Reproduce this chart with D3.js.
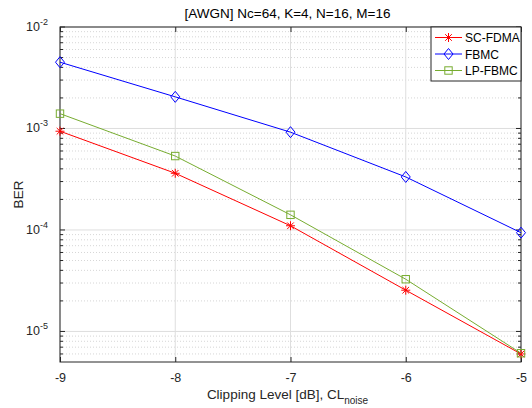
<!DOCTYPE html>
<html>
<head>
<meta charset="utf-8">
<script src="https://cdn.jsdelivr.net/npm/d3@7"></script>
<style>
  body { margin: 0; background: #fff; }
  svg { font-family: "Liberation Sans", Arial, sans-serif; }
</style>
</head>
<body>
<svg id="chart" width="532" height="408"></svg>
<script>
// data
var clipLevels = [-9, -8, -7, -6, -5];
var scFdma = [9.4e-4, 3.62e-4, 1.10e-4, 2.55e-5, 6.0e-6];
var fbmc = [4.5e-3, 2.05e-3, 9.2e-4, 3.33e-4, 9.4e-5];
var lpFbmc = [1.40e-3, 5.35e-4, 1.41e-4, 3.27e-5, 6.1e-6];
var seriesNames = ["SC-FDMA", "FBMC", "LP-FBMC"];
var xTicks = [-9, -8, -7, -6, -5];
var yTicks = [1e-5, 1e-4, 1e-3, 1e-2];
var yExp = ["-5", "-4", "-3", "-2"];

var series = [
  {name: seriesNames[0], values: scFdma, color: "#ff0000", marker: "star"},
  {name: seriesNames[1], values: fbmc, color: "#0000ff", marker: "diamond"},
  {name: seriesNames[2], values: lpFbmc, color: "#77ac30", marker: "square"}
];

var svg = d3.select("#chart");
var margin = {top: 27, right: 11, bottom: 46, left: 60};
var width = 532 - margin.left - margin.right,
    height = 408 - margin.top - margin.bottom;

var x = d3.scaleLinear().domain([-9, -5]).range([0, width]);
var y = d3.scaleLog().domain([5e-6, 1e-2]).range([height, 0]);

var g = svg.append("g")
    .attr("transform", "translate(" + margin.left + "," + margin.top + ")");

// minor log ticks
var minor = [];
for (var e = -6; e <= -3; e++) {
  for (var m = 2; m <= 9; m++) {
    var v = m * Math.pow(10, e);
    if (v >= 5e-6 && v < 1e-2) minor.push(v);
  }
}

// grid
g.selectAll(".minor-grid").data(minor).enter().append("line")
    .attr("x1", 0).attr("x2", width)
    .attr("y1", function(d) { return y(d); })
    .attr("y2", function(d) { return y(d); })
    .attr("stroke", "#cccccc").attr("stroke-dasharray", "1,2")
    .attr("stroke-width", 0.8);

g.selectAll(".ygrid").data(yTicks).enter().append("line")
    .attr("x1", 0).attr("x2", width)
    .attr("y1", function(d) { return y(d); })
    .attr("y2", function(d) { return y(d); })
    .attr("stroke", "#dedede");

g.selectAll(".xgrid").data(xTicks).enter().append("line")
    .attr("y1", 0).attr("y2", height)
    .attr("x1", function(d) { return x(d); })
    .attr("x2", function(d) { return x(d); })
    .attr("stroke", "#dedede");

// axes (ticks inside, box on)
var axisColor = "#262626";
g.append("g")
    .attr("transform", "translate(0," + height + ")")
    .call(d3.axisBottom(x).tickValues(xTicks).tickSizeInner(-5).tickSizeOuter(0).tickPadding(11).tickFormat(d3.format("d")))
    .call(function(s) {
      s.select(".domain").remove();
      s.selectAll("line").attr("stroke", axisColor);
      s.selectAll("text").attr("font-size", 12.5).attr("fill", axisColor)
        .text(function(d) { return d < 0 ? "-" + Math.abs(d) : d; });
    });
g.append("g")
    .call(d3.axisTop(x).tickValues(xTicks).tickSizeInner(-5).tickSizeOuter(0).tickFormat(""))
    .call(function(s) { s.select(".domain").remove(); s.selectAll("line").attr("stroke", axisColor); });

[0, width].forEach(function(px, i) {
  var dir = i === 0 ? 1 : -1;
  g.selectAll(".ymajor" + i).data(yTicks).enter().append("line")
      .attr("x1", px).attr("x2", px + dir * 5)
      .attr("y1", function(d) { return y(d); })
      .attr("y2", function(d) { return y(d); })
      .attr("stroke", axisColor);
  g.selectAll(".yminor" + i).data(minor).enter().append("line")
      .attr("x1", px).attr("x2", px + dir * 3)
      .attr("y1", function(d) { return y(d); })
      .attr("y2", function(d) { return y(d); })
      .attr("stroke", axisColor);
});

var ylab = g.selectAll(".ylab").data(yTicks).enter().append("text")
    .attr("x", -12)
    .attr("y", function(d) { return y(d) + 4; })
    .attr("text-anchor", "end")
    .attr("font-size", 12.5)
    .attr("fill", axisColor);
ylab.append("tspan").text("10");
ylab.append("tspan").attr("dy", -6).attr("font-size", 9)
    .text(function(d, i) { return yExp[i]; });

g.append("rect")
    .attr("width", width).attr("height", height)
    .attr("fill", "none").attr("stroke", axisColor).attr("stroke-width", 1);

// lines and markers
var line = d3.line()
    .x(function(d, i) { return x(clipLevels[i]); })
    .y(function(d) { return y(d); });

function drawMarker(sel, type, color) {
  if (type === "star") {
    var r = 4.5, rd = 3.3;
    sel.append("path")
      .attr("d", "M" + (-r) + ",0H" + r + "M0," + (-r) + "V" + r +
        "M" + (-rd) + "," + (-rd) + "L" + rd + "," + rd +
        "M" + (-rd) + "," + rd + "L" + rd + "," + (-rd))
      .attr("stroke", color).attr("fill", "none").attr("stroke-width", 1);
  } else if (type === "diamond") {
    sel.append("path").attr("d", "M0,-5.5L4.5,0L0,5.5L-4.5,0Z")
      .attr("stroke", color).attr("fill", "none").attr("stroke-width", 1);
  } else {
    sel.append("rect").attr("x", -3.7).attr("y", -3.7).attr("width", 7.4).attr("height", 7.4)
      .attr("stroke", color).attr("fill", "none").attr("stroke-width", 1);
  }
}

series.forEach(function(s) {
  g.append("path").datum(s.values)
      .attr("d", line)
      .attr("fill", "none").attr("stroke", s.color).attr("stroke-width", 1);
  g.selectAll(null).data(s.values).enter().append("g")
      .attr("transform", function(d, i) { return "translate(" + x(clipLevels[i]) + "," + y(d) + ")"; })
      .each(function() { drawMarker(d3.select(this), s.marker, s.color); });
});

// legend
var lg = svg.append("g").attr("transform", "translate(" + 431 + "," + 27 + ")");
lg.append("rect").attr("width", 90).attr("height", 54)
    .attr("fill", "#fff").attr("stroke", axisColor).attr("stroke-width", 1);
series.forEach(function(s, i) {
  var row = lg.append("g").attr("transform", "translate(0," + (10.5 + i * 16.5) + ")");
  row.append("line").attr("x1", 4).attr("x2", 31).attr("stroke", s.color).attr("stroke-width", 1);
  drawMarker(row.append("g").attr("transform", "translate(17.5,0)"), s.marker, s.color);
  row.append("text").attr("x", 34).attr("y", 4.5).attr("font-size", 12).attr("fill", "#000").text(s.name);
});

// title and axis labels
svg.append("text")
    .attr("x", margin.left + width / 2 - 3).attr("y", 18)
    .attr("text-anchor", "middle").attr("font-size", 13.5).attr("fill", "#000")
    .text("[AWGN] Nc=64, K=4, N=16, M=16");

svg.append("text")
    .attr("transform", "translate(23," + (margin.top + height / 2) + ") rotate(-90)")
    .attr("text-anchor", "middle").attr("font-size", 13.5).attr("fill", axisColor)
    .text("BER");

var xl = svg.append("text")
    .attr("x", margin.left + width / 2 - 3).attr("y", 399)
    .attr("text-anchor", "middle").attr("font-size", 13.5).attr("fill", axisColor);
xl.append("tspan").text("Clipping Level [dB], CL");
xl.append("tspan").attr("dy", 5).attr("font-size", 10).text("noise");
</script>
</body>
</html>
